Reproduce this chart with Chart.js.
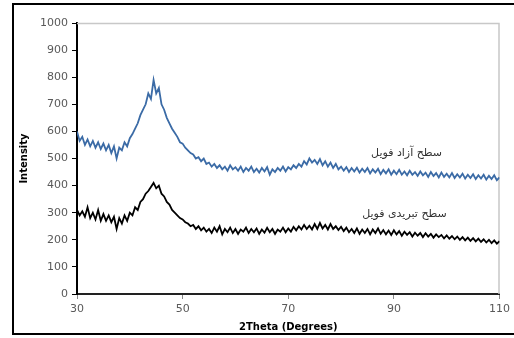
<!DOCTYPE html>
<html>
<head>
<meta charset="utf-8">
<script src="https://cdn.jsdelivr.net/npm/chart.js@4.4.1/dist/chart.umd.min.js"></script>
<style>
    html, body { margin: 0; padding: 0; background: #fff; overflow: hidden; }
    #quadro { position: relative; width: 514px; height: 338px; overflow: hidden; }
    #borda { position: absolute; left: 12px; top: 3px; width: 540px; height: 328px; border: 2px solid #000; }
    canvas { position: absolute; left: 0; top: 0; }
</style>
</head>
<body>
<div id="quadro">
    <div id="borda"></div>
    <canvas id="grafico-xrd" width="514" height="338"></canvas>
</div>
<script>
// Ângulo inicial e passo das leituras (graus 2θ)
const anguloInicial = 30;
const passoAngulo = 0.5;

// Superfície livre da folha (azul), lida a cada 0,5°
const superficieLivre = [
    600, 565, 580, 550, 570, 545, 565, 540, 560, 535,
    555, 530, 550, 520, 545, 500, 540, 530, 560, 545,
    575, 590, 610, 630, 660, 680, 700, 740, 720, 790,
    740, 760, 700, 680, 650, 630, 610, 595, 580, 560,
    555, 540, 530, 520, 515, 500, 505, 490, 500, 480,
    485, 470, 480, 465, 475, 460, 470, 455, 475, 460,
    468, 455, 470, 450, 465, 455, 470, 450, 462, 448,
    465, 452, 468, 440, 460, 450, 465, 455, 470, 452,
    468, 460, 475, 465, 480, 470, 490, 478, 500, 485,
    495, 480, 498, 475, 490, 470, 485, 465, 480, 460,
    470, 455, 468, 450, 465, 452, 466, 448, 462, 450,
    465, 445, 460, 448, 462, 442, 458, 445, 460, 440,
    455, 442, 458, 440, 452, 438, 455, 440, 450, 436,
    452, 438, 448, 432, 450, 435, 446, 430, 448, 432,
    444, 430, 446, 428, 442, 430, 444, 426, 440, 428,
    442, 424, 438, 426, 440, 422, 436, 424, 438, 420,
    430
];

// Superfície de resfriamento da folha (preto)
const superficieResfriada = [
    310, 290, 305, 285, 320, 280, 300, 275, 310, 270,
    295, 270, 290, 265, 285, 240, 280, 260, 290, 270,
    300, 290, 320, 310, 340, 350, 370, 380, 395, 410,
    390, 400, 370, 360, 340, 330, 310, 300, 290, 280,
    275, 265, 260, 250, 255, 240, 250, 235, 245, 230,
    240, 225, 245, 230, 250, 220, 240, 228, 245, 225,
    240, 222, 238, 230, 245, 225, 240, 228, 242, 222,
    238, 226, 244, 228, 240, 222, 238, 230, 245, 228,
    242, 230, 248, 235, 250, 238, 255, 240, 252, 238,
    258, 240, 262, 242, 255, 238, 258, 240, 250, 236,
    248, 232, 245, 228, 240, 225, 242, 222, 238, 225,
    240, 220, 238, 225, 242, 222, 236, 220, 234, 218,
    235, 220, 232, 215, 230, 218, 228, 212, 226, 215,
    225, 210, 224, 212, 222, 208, 220, 210, 218, 205,
    216, 204, 214, 202, 212, 200, 210, 198, 208, 196,
    206, 194, 204, 192, 202, 190, 200, 188, 198, 186,
    195
];

// Rótulos das curvas (texto em persa) e onde ficam, em coordenadas dos dados
const rotulosCurvas = ['سطح آزاد فویل', 'سطح تبریدی فویل'];
const rotulosX = [92.4, 92];
const rotulosY = [518, 293];

function paraPontos(valores) {
    return valores.map((v, i) => ({ x: anguloInicial + i * passoAngulo, y: v }));
}

// Borda da área do gráfico (cinza em cima e à direita, como no Excel)
const bordaArea = {
    id: 'bordaArea',
    beforeDatasetsDraw(chart) {
        const { ctx, chartArea: a } = chart;
        ctx.save();
        ctx.strokeStyle = '#c8c8c8';
        ctx.lineWidth = 1.5;
        ctx.beginPath();
        ctx.moveTo(a.left, a.top + 0.5);
        ctx.lineTo(a.right - 0.5, a.top + 0.5);
        ctx.lineTo(a.right - 0.5, a.bottom);
        ctx.stroke();
        ctx.restore();
    }
};

const rotulos = {
    id: 'rotulos',
    afterDatasetsDraw(chart) {
        const { ctx, scales } = chart;
        ctx.save();
        ctx.font = '11px "DejaVu Sans"';
        ctx.fillStyle = '#333';
        ctx.textAlign = 'center';
        ctx.textBaseline = 'middle';
        ctx.direction = 'rtl';
        rotulosCurvas.forEach((t, i) => {
            ctx.fillText(t, scales.x.getPixelForValue(rotulosX[i]), scales.y.getPixelForValue(rotulosY[i]));
        });
        ctx.restore();
    }
};

const fonteTicks = { family: '"DejaVu Sans"', size: 11 };

new Chart(document.getElementById('grafico-xrd').getContext('2d'), {
    type: 'line',
    data: {
        datasets: [{
            label: rotulosCurvas[0],
            data: paraPontos(superficieLivre),
            borderColor: '#3b6ba6',
            borderWidth: 1.8,
            pointRadius: 0,
            tension: 0
        }, {
            label: rotulosCurvas[1],
            data: paraPontos(superficieResfriada),
            borderColor: '#000',
            borderWidth: 1.8,
            pointRadius: 0,
            tension: 0
        }]
    },
    options: {
        responsive: false,
        animation: false,
        devicePixelRatio: 1,
        layout: { padding: { left: 15, right: 12, top: 23, bottom: 5 } },
        plugins: {
            legend: { display: false },
            tooltip: { enabled: false }
        },
        scales: {
            x: {
                type: 'linear',
                min: 30,
                max: 110,
                afterFit(s) { s.height = 39; },
                ticks: { stepSize: 20, color: '#595959', font: fonteTicks, padding: 4, callback: v => String(v) },
                grid: { display: true, drawOnChartArea: false, drawTicks: true, tickLength: 5, color: '#888' },
                border: { color: '#222', width: 2 },
                title: {
                    display: true,
                    text: '2Theta (Degrees)',
                    color: '#000',
                    font: { family: '"DejaVu Sans"', size: 10, weight: 'bold' },
                    padding: { top: 0, bottom: 0 }
                }
            },
            y: {
                min: 0,
                max: 1000,
                afterFit(s) { s.width = 62; },
                ticks: { stepSize: 100, color: '#595959', font: fonteTicks, padding: 4, callback: v => String(v) },
                grid: { display: true, drawOnChartArea: false, drawTicks: true, tickLength: 5, color: '#000' },
                border: { color: '#000', width: 2 },
                title: {
                    display: true,
                    text: 'Intensity',
                    color: '#000',
                    font: { family: '"DejaVu Sans"', size: 10, weight: 'bold' },
                    padding: { top: 3, bottom: 0 }
                }
            }
        }
    },
    plugins: [bordaArea, rotulos]
});
</script>
</body>
</html>
